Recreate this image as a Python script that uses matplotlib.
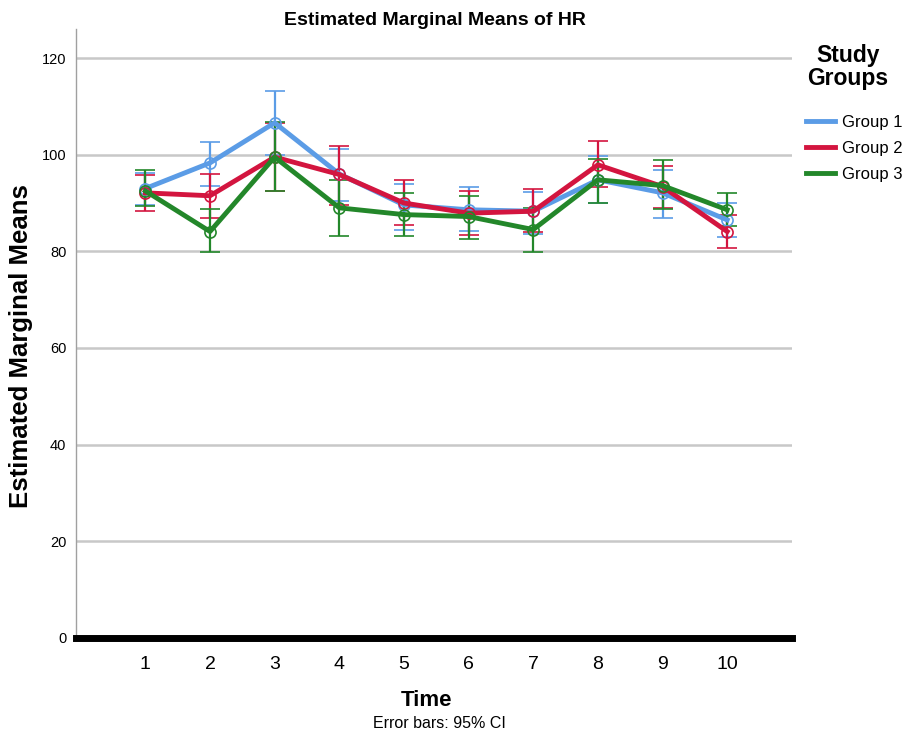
import matplotlib
matplotlib.use("Agg")
import matplotlib.pyplot as plt
from matplotlib.lines import Line2D

plt.rcParams['font.family'] = ['Liberation Sans', 'DejaVu Sans']

# --- data ---
time_points = [1, 2, 3, 4, 5, 6, 7, 8, 9, 10]
group_names = ["Group 1", "Group 2", "Group 3"]

g1_mean = [93.0, 98.3, 106.6, 96.0, 89.6, 88.6, 88.3, 94.8, 92.1, 86.5]
g1_low = [89.5, 93.6, 100.0, 90.5, 84.5, 84.3, 83.6, 89.9, 87.0, 83.0]
g1_high = [96.3, 102.6, 113.1, 101.2, 93.9, 93.3, 92.2, 99.8, 96.9, 89.9]

g2_mean = [92.1, 91.5, 99.5, 95.9, 90.0, 87.9, 88.3, 97.9, 93.4, 84.1]
g2_low = [88.3, 87.0, 92.5, 89.6, 85.5, 83.4, 83.9, 93.3, 89.0, 80.7]
g2_high = [95.7, 96.0, 106.6, 101.7, 94.8, 92.4, 92.8, 102.8, 97.6, 87.6]

g3_mean = [92.5, 84.1, 99.5, 89.0, 87.6, 87.2, 84.5, 94.8, 93.6, 88.6]
g3_low = [89.3, 79.8, 92.5, 83.2, 83.1, 82.5, 79.8, 89.9, 88.8, 85.2]
g3_high = [96.8, 88.8, 106.8, 94.8, 92.0, 91.5, 89.0, 99.2, 98.8, 92.1]

colors = ["#5b9ce6", "#d3153f", "#23872a"]

fig = plt.figure(figsize=(9.07, 7.44), dpi=100)
ax = fig.add_axes([0.084, 0.1425, 0.789, 0.8185])

series = [(g1_mean, g1_low, g1_high), (g2_mean, g2_low, g2_high), (g3_mean, g3_low, g3_high)]
for (m, lo, hi), c in zip(series, colors):
    yerr = [[a - b for a, b in zip(m, lo)], [b - a for a, b in zip(m, hi)]]
    ax.errorbar(time_points, m, yerr=yerr, color=c, lw=3.5, elinewidth=1.6,
                capsize=7, capthick=1.6, marker='o', ms=8, mfc='none',
                mec=c, mew=1.2, zorder=3)

ax.set_xlim(-0.07, 11.0)
ax.set_ylim(0, 126)
ax.set_yticks([0, 20, 40, 60, 80, 100, 120])
ax.set_xticks(time_points)
ax.yaxis.grid(True, color='#c8c8c8', lw=1.8)
ax.set_axisbelow(True)
ax.tick_params(axis='both', length=0)
ax.tick_params(axis='y', labelsize=10.5, pad=7)
ax.tick_params(axis='x', labelsize=14, pad=13)

for s in ['top', 'right']:
    ax.spines[s].set_visible(False)
ax.spines['left'].set_color('#a0a0a0')
ax.spines['left'].set_linewidth(1.0)
ax.spines['bottom'].set_color('black')
ax.spines['bottom'].set_linewidth(5)

ax.set_xlabel("Time", fontsize=16, fontweight='bold')
ax.xaxis.set_label_coords(0.49, -0.086)
ax.set_ylabel("Estimated Marginal Means", fontsize=18.5, fontweight='bold')
ax.yaxis.set_label_coords(-0.061, 0.48)
fig.text(0.48, 0.972, "Estimated Marginal Means of HR", ha='center', va='center',
         fontsize=14, fontweight='bold')
fig.text(0.485, 0.027, "Error bars: 95% CI", ha='center', va='center', fontsize=11.5)

# legend title placed separately so spacing matches
fig.text(0.935, 0.91, "Study\nGroups", ha='center', va='center', fontsize=16.5,
         fontweight='bold', linespacing=1.05)
handles = [Line2D([0], [0], color=c, lw=3.5) for c in colors]
fig.legend(handles, group_names, loc='upper left', bbox_to_anchor=(0.889, 0.846),
           frameon=False, fontsize=12, handlelength=1.7, handletextpad=0.45,
           labelspacing=0.68, borderaxespad=0, borderpad=0)

fig.savefig("out.png", dpi=100)
